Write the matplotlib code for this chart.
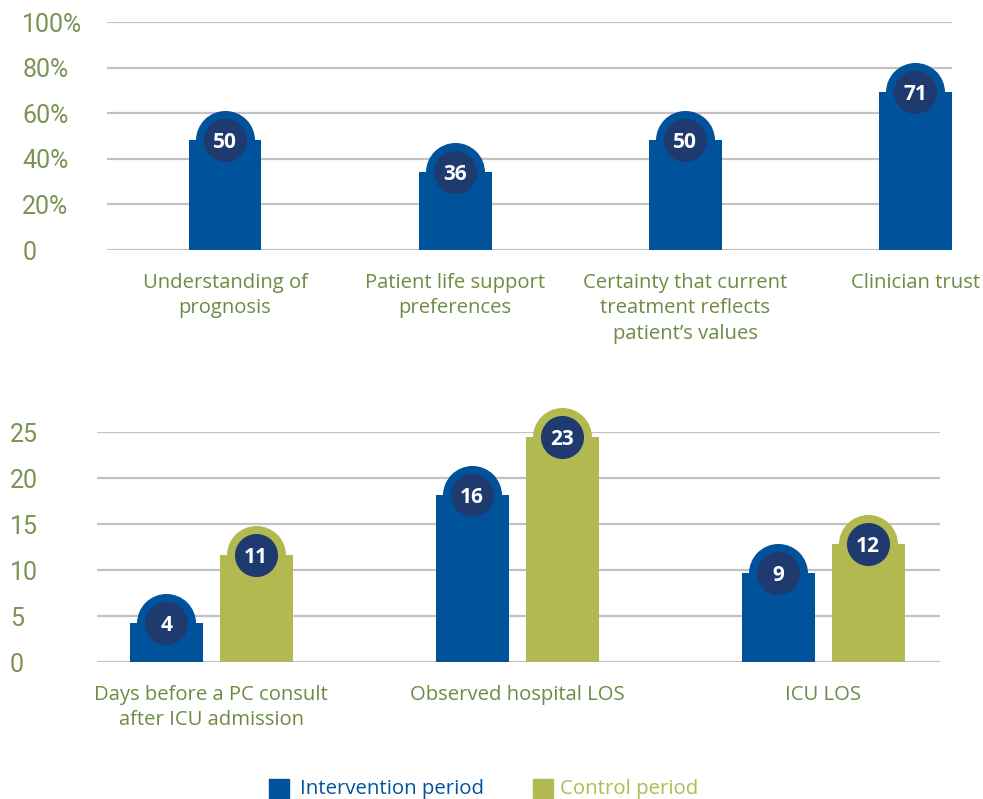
import numpy as np
import matplotlib
matplotlib.use("Agg")
import matplotlib.pyplot as plt
from matplotlib.patches import Rectangle

# top panel: percentages
top_categories = ["Understanding of\nprognosis", "Patient life support\npreferences",
                  "Certainty that current\ntreatment reflects\npatient\u2019s values",
                  "Clinician trust"]
top_labels = [50, 36, 50, 71]
top_heights = [48.2, 34.2, 48.2, 69.3]   # bar tops as drawn in the graphic
top_ticks = [0, 20, 40, 60, 80, 100]
top_ticklabels = ["0", "20%", "40%", "60%", "80%", "100%"]

# bottom panel: days
bottom_categories = ["Days before a PC consult\nafter ICU admission",
                     "Observed hospital LOS", "ICU LOS"]
intervention_labels = [4, 16, 9]
control_labels = [11, 23, 12]
intervention_heights = [4.25, 18.2, 9.7]
control_heights = [11.6, 24.5, 12.8]
bottom_ticks = [0, 5, 10, 15, 20, 25]

BLUE = "#00539b"
OLIVE = "#b3b951"
NAVY = "#1e3a6e"
GRID = "#c2c2c2"
TEXT = "#6d8b44"
TICK = "#7b9455"

plt.rcParams["font.family"] = ["Open Sans", "DejaVu Sans"]

fig = plt.figure(figsize=(9.83, 7.99), dpi=100)
W, H = 983, 799


def add_axes_px(x0, x1, y_bottom, y_top):
    return fig.add_axes([x0 / W, 1 - y_bottom / H, (x1 - x0) / W, (y_bottom - y_top) / H])


def style(ax, ticks, ticklabels, pad):
    for s in ax.spines.values():
        s.set_visible(False)
    for t in ticks:
        ax.axhline(t, color=GRID, lw=1.6, zorder=0)
    ax.set_yticks(ticks)
    ax.set_yticklabels(ticklabels, fontfamily=["Roboto", "DejaVu Sans"],
                       fontweight="normal", fontsize=18, color=TICK, ha="left")
    ax.tick_params(axis="y", length=0, pad=pad)
    ax.tick_params(axis="x", length=0, pad=16.5, labelsize=14.6, labelcolor=TEXT)


def badge(ax, x, h, label, color):
    ax.plot(x, h, "o", ms=42.5, color=color, mec="none", zorder=3, clip_on=False)
    ax.plot(x, h, "o", ms=31, color=NAVY, mec="none", zorder=4, clip_on=False)
    ax.text(x, h, str(label), ha="center", va="center_baseline", color="white",
            fontsize=15, fontweight="bold", zorder=5)


# ---- top chart
ax1 = add_axes_px(107, 952, 250, 22)
x = np.arange(len(top_categories))
ax1.bar(x, top_heights, width=0.317, color=BLUE, zorder=2)
for xi, h, lab in zip(x, top_heights, top_labels):
    badge(ax1, xi, h, lab, BLUE)
ax1.set_xlim(-0.513, 3.16)
ax1.set_ylim(0, 100)
style(ax1, top_ticks, top_ticklabels, pad=61)
ax1.set_xticks(x)
ax1.set_xticklabels(top_categories, linespacing=1.37)

# ---- bottom chart
ax2 = add_axes_px(97, 940, 662, 432)
xb = np.arange(len(bottom_categories))
off = 0.147
ax2.bar(xb - off, intervention_heights, width=0.239, color=BLUE, zorder=2)
ax2.bar(xb + off, control_heights, width=0.239, color=OLIVE, zorder=2)
for xi, h, lab in zip(xb - off, intervention_heights, intervention_labels):
    badge(ax2, xi, h, lab, BLUE)
for xi, h, lab in zip(xb + off, control_heights, control_labels):
    badge(ax2, xi, h, lab, OLIVE)
ax2.set_xlim(-0.373, 2.382)
ax2.set_ylim(0, 25)
style(ax2, bottom_ticks, [str(t) for t in bottom_ticks], pad=62.6)
ax2.set_xticks(xb)
ax2.set_xticklabels(bottom_categories, linespacing=1.37)

# ---- legend
fig.patches.append(Rectangle((269 / W, 1 - 798 / H), 20 / W, 19 / H,
                             transform=fig.transFigure, color=BLUE))
fig.text(300 / W, 1 - 789 / H, "Intervention period", color=BLUE, fontsize=14.7,
         va="center")
fig.patches.append(Rectangle((533 / W, 1 - 798 / H), 20 / W, 19 / H,
                             transform=fig.transFigure, color=OLIVE))
fig.text(560 / W, 1 - 789 / H, "Control period", color=OLIVE, fontsize=14.7,
         va="center")

fig.savefig("out.png", dpi=100)
